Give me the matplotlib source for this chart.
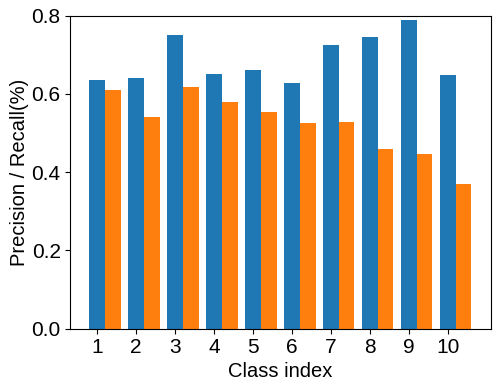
import numpy as np
import matplotlib
matplotlib.use("Agg")
import matplotlib.pyplot as plt

plt.rcParams['font.family'] = ['Liberation Sans', 'DejaVu Sans']

classes = [1, 2, 3, 4, 5, 6, 7, 8, 9, 10]
precision = [0.636, 0.640, 0.751, 0.651, 0.662, 0.628, 0.726, 0.744, 0.789, 0.649]
recall = [0.609, 0.541, 0.617, 0.580, 0.553, 0.525, 0.529, 0.460, 0.447, 0.370]

x = np.array(classes)
width = 0.4

fig, ax = plt.subplots(figsize=(4.99, 3.89), dpi=100)
fig.subplots_adjust(left=0.141, right=0.983, top=0.96, bottom=0.155)

ax.bar(x, precision, width, color='#1f77b4')
ax.bar(x + width, recall, width, color='#ff7f0e')

ax.set_xticks(x)
ax.set_xticklabels([str(c) for c in classes])
ax.set_yticks([0.0, 0.2, 0.4, 0.6, 0.8])
ax.set_ylim(0, 0.8)
ax.tick_params(labelsize=15)
ax.set_xlabel('Class index', fontsize=14.5, labelpad=3)
ax.set_ylabel('Precision / Recall(%)', fontsize=14.5, labelpad=2)

fig.savefig('out.png', dpi=100)
